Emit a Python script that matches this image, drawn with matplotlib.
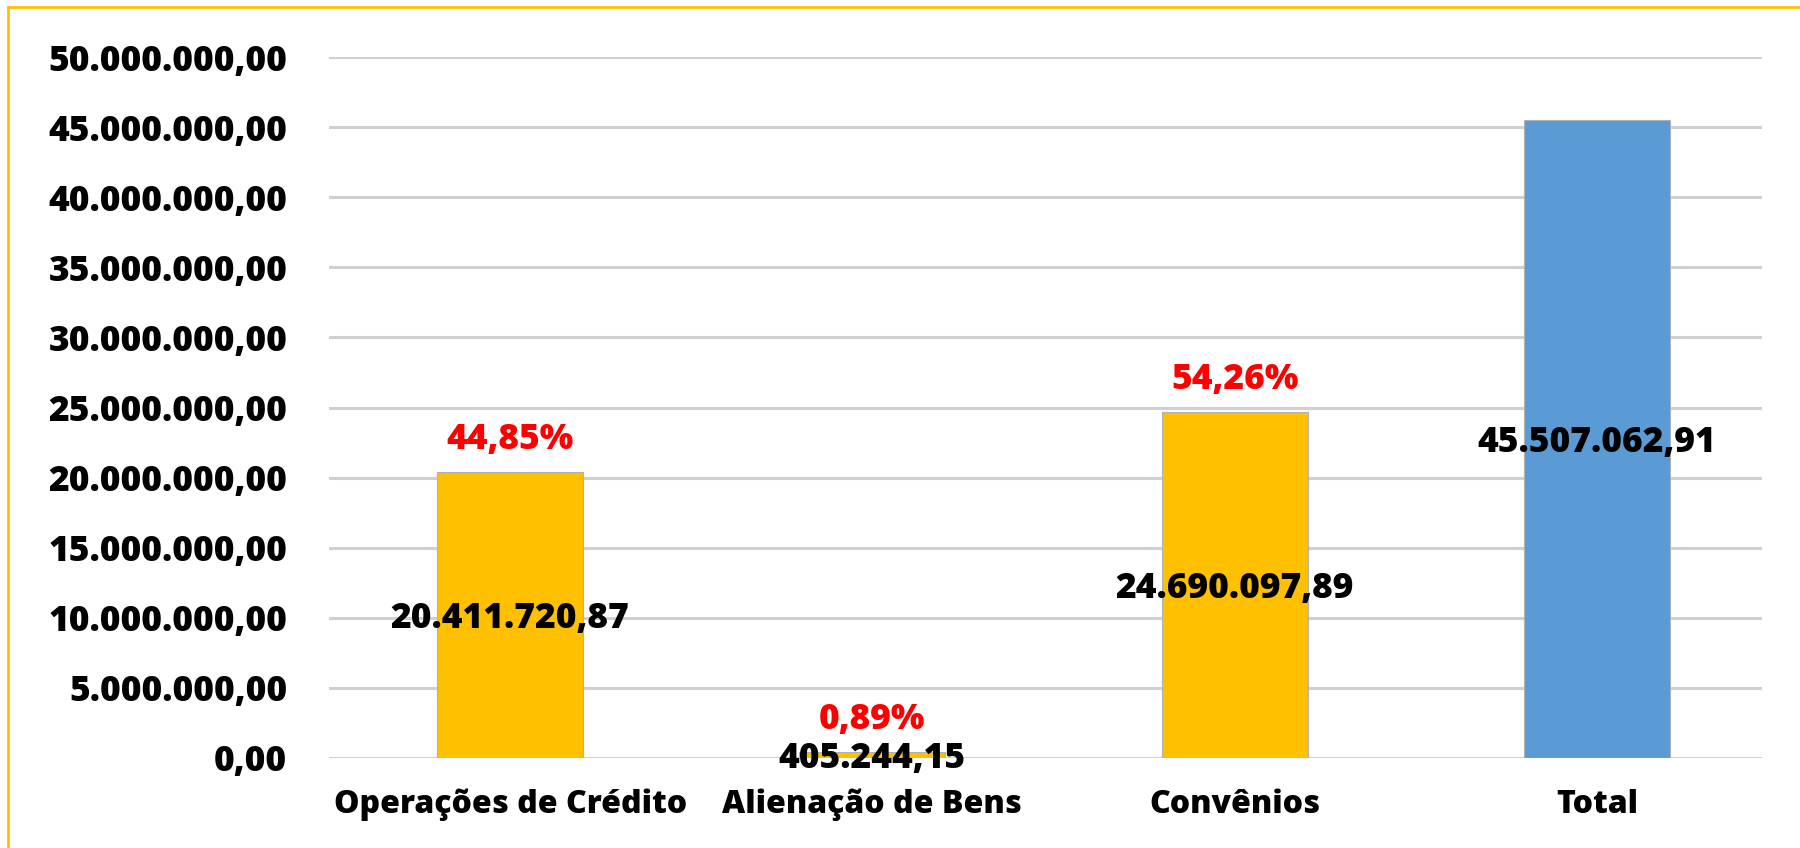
import matplotlib
matplotlib.use("Agg")
import matplotlib.pyplot as plt
from matplotlib.patches import Rectangle

categories = ["Operações de Crédito", "Alienação de Bens", "Convênios", "Total"]
values = [20411720.87, 405244.15, 24690097.89, 45507062.91]
value_labels = ["20.411.720,87", "405.244,15", "24.690.097,89", "45.507.062,91"]
pct_labels = ["44,85%", "0,89%", "54,26%", ""]
bar_colors = ["#FFC000", "#FFC000", "#FFC000", "#5B9BD5"]
yticks = [0, 5e6, 10e6, 15e6, 20e6, 25e6, 30e6, 35e6, 40e6, 45e6, 50e6]
ytick_labels = ["0,00", "5.000.000,00", "10.000.000,00", "15.000.000,00", "20.000.000,00",
                "25.000.000,00", "30.000.000,00", "35.000.000,00", "40.000.000,00",
                "45.000.000,00", "50.000.000,00"]

plt.rcParams['font.family'] = ['Open Sans', 'DejaVu Sans']
W = 800

fig = plt.figure(figsize=(18, 8.48), dpi=100)
ax = fig.add_axes([329/1800, 1 - 758/848, (1762-329)/1800, (758-57)/848])

x = list(range(len(categories)))
bars = ax.bar(x, values, width=0.403, color=bar_colors, edgecolor="#b0b0b0", linewidth=0.8, zorder=3)

ax.set_xlim(-0.5, 3.456)
ax.set_ylim(0, 50e6)
ax.set_yticks(yticks)
ax.set_yticklabels(ytick_labels, fontsize=25.5, fontweight=W)
ax.set_xticks(x)
ax.set_xticklabels(categories, fontsize=23, fontweight=W)
ax.tick_params(axis='both', length=0)
ax.tick_params(axis='y', pad=30)
ax.tick_params(axis='x', pad=22)
for s in ax.spines.values():
    s.set_visible(False)
ax.yaxis.grid(True, color="#d0d0d0", linewidth=2.2, zorder=0)
ax.set_axisbelow(True)

for xi, v, vl, pl in zip(x, values, value_labels, pct_labels):
    ax.annotate(vl, (xi, v / 2), xytext=(0, -3), textcoords='offset points',
                ha='center', va='center', fontsize=25.5, fontweight=W,
                color='black', zorder=5)
    if pl:
        ax.annotate(pl, (xi, v), xytext=(0, 23), textcoords='offset points',
                    ha='center', va='center', fontsize=25.5, fontweight=W,
                    color='#FF0000', zorder=5)

fig.patches.append(Rectangle((8/1800, -0.1), 1.2, (1 - 7/848) + 0.1, transform=fig.transFigure,
                             fill=False, edgecolor="#FFC000", linewidth=2, zorder=10))

fig.savefig("out.png", dpi=100)
